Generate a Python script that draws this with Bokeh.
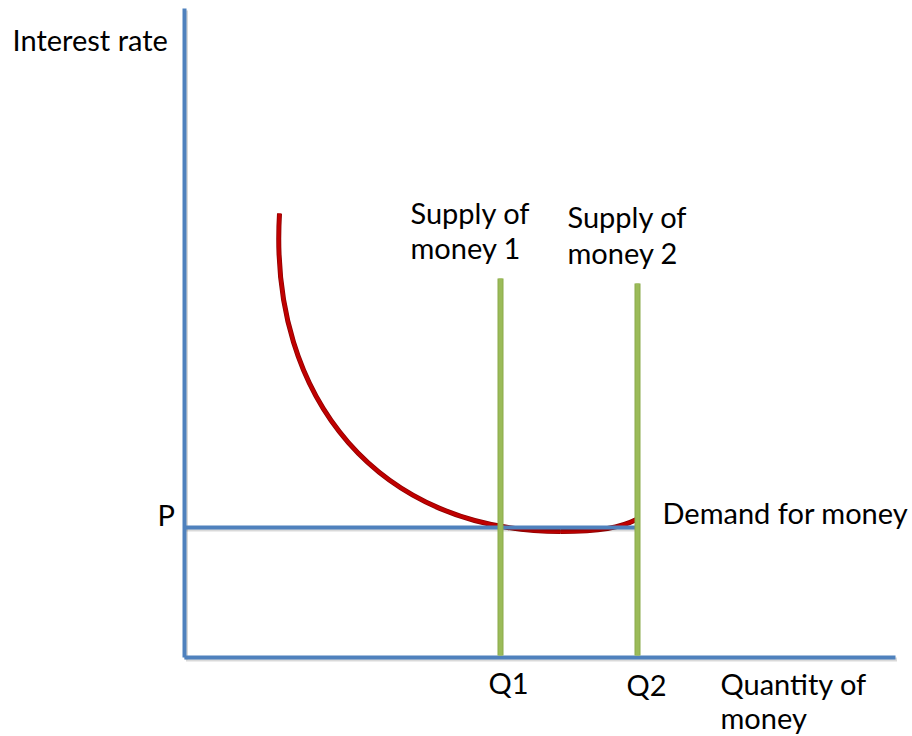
from bokeh.plotting import figure
from bokeh.models import Range1d
from bokeh.core.properties import value
from bokeh.embed import file_html
from bokeh.resources import INLINE

# ---- data (diagram units: origin at axes corner) ----
axis_x_len = 711
axis_y_len = 649
P = 130
Q1 = 316
Q2 = 453
supply1_top = 379
supply2_top = 374

# demand curve as two cubic Bezier pieces: start, control 1, control 2, end
demand_x0 = [95, 376]
demand_y0 = [444, 126]
demand_cx0 = [84, 416]
demand_cy0 = [257, 126]
demand_cx1 = [196, 436]
demand_cy1 = [126, 130]
demand_x1 = [376, 452]
demand_y1 = [126, 138]

labels_text = ["Interest rate", "Supply of", "money 1", "Supply of", "money 2",
               "Demand for money", "P", "Q1", "Q2", "Quantity of", "money"]
labels_x = [-172, 226, 226, 383, 383, 478, -27, 324, 462, 536, 536]
labels_y = [618, 445, 410, 441, 405, 145, 143, -25, -27, -26, -60]
labels_align = ["left", "left", "left", "left", "left", "left", "left",
                "center", "center", "left", "left"]

BLUE = "#4F81BD"
GREEN = "#9BBB59"
RED = "#C00000"
FONT = "Lato"

p = figure(width=912, height=736, output_backend="svg", toolbar_location=None,
           x_range=Range1d(-184, 728), y_range=Range1d(-79, 657),
           min_border=0)
p.axis.visible = False
p.grid.visible = False
p.outline_line_color = None
p.background_fill_color = "white"

# demand curve
p.bezier(x0=demand_x0, y0=demand_y0, x1=demand_x1, y1=demand_y1,
         cx0=demand_cx0, cy0=demand_cy0, cx1=demand_cx1, cy1=demand_cy1,
         line_color="#8B0000", line_width=5)
p.bezier(x0=demand_x0, y0=demand_y0, x1=demand_x1, y1=demand_y1,
         cx0=demand_cx0, cy0=demand_cy0, cx1=demand_cx1, cy1=demand_cy1,
         line_color=RED, line_width=3.5)

# soft shadows under axes and price line
for xs, ys in [([0, 0], [0, axis_y_len]), ([0, axis_x_len], [0, 0]), ([0, Q2], [P, P])]:
    p.line([v + 1.5 for v in xs], [v - 2 for v in ys], line_color="#000000",
           line_alpha=0.15, line_width=4)

# axes and price line
p.line([0, 0], [0, axis_y_len], line_color=BLUE, line_width=4)
p.line([0, axis_x_len], [0, 0], line_color=BLUE, line_width=4)
p.line([0, Q2], [P, P], line_color=BLUE, line_width=4)

# supply lines
for q, top in [(Q1, supply1_top), (Q2, supply2_top)]:
    p.line([q, q], [2, top], line_color="#8AAA4A", line_width=6)
    p.line([q, q], [2, top], line_color=GREEN, line_width=4)

p.text(x=labels_x, y=labels_y, text=labels_text, text_font=value(FONT),
       text_font_size="29px", text_color="#000000", text_align=labels_align,
       text_baseline="alphabetic")

open("out.html", "w").write(file_html(p, INLINE))
